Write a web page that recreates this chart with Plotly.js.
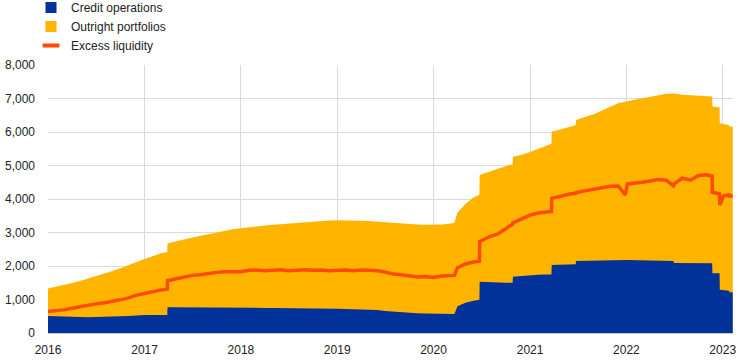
<!DOCTYPE html>
<html>
<head>
<meta charset="utf-8">
<script src="https://cdn.plot.ly/plotly-3.0.1.min.js"></script>
<style>html,body{margin:0;padding:0;background:#fff}#chart{width:744px;height:362px}</style>
</head>
<body>
<div id="chart"></div>
<script>
// Dates (weekly series sampled; duplicated-close dates mark step changes)
const dates = [
"2016-01-01","2016-02-01","2016-03-01","2016-04-01","2016-05-01","2016-06-01","2016-07-01","2016-08-01","2016-09-01","2016-10-01","2016-11-01","2016-12-01",
"2017-01-01","2017-02-01","2017-03-01","2017-03-28","2017-03-29","2017-05-01","2017-06-01","2017-07-01","2017-08-01","2017-09-01","2017-10-01","2017-11-01","2017-12-01",
"2018-01-01","2018-02-01","2018-03-01","2018-04-01","2018-05-01","2018-06-01","2018-07-01","2018-08-01","2018-09-01","2018-10-01","2018-11-01","2018-12-01",
"2019-01-01","2019-02-01","2019-03-01","2019-04-01","2019-05-01","2019-06-01","2019-07-01","2019-08-01","2019-09-01","2019-10-01","2019-11-01","2019-12-01",
"2020-01-01","2020-02-01","2020-03-01","2020-03-20","2020-04-01","2020-05-01","2020-06-01","2020-06-23","2020-06-24","2020-08-01","2020-09-01","2020-10-01","2020-10-27","2020-10-28","2020-12-01",
"2021-01-01","2021-02-01","2021-03-01","2021-03-23","2021-03-24","2021-05-01","2021-06-01","2021-06-23","2021-06-24","2021-08-01","2021-09-01","2021-10-01","2021-11-01","2021-12-01","2021-12-28",
"2022-01-05","2022-02-01","2022-03-01","2022-04-01","2022-05-01","2022-06-01","2022-06-28","2022-07-01","2022-08-01","2022-09-01","2022-10-01","2022-11-01","2022-11-22","2022-11-23","2022-12-20","2022-12-21",
"2023-01-05","2023-01-25","2023-01-26","2023-02-08"
];
// Credit operations (EUR billions)
const creditOperations = [
510,500,490,480,480,470,480,480,500,500,510,530,
540,540,540,540,770,770,765,765,765,760,760,760,760,
755,755,750,750,745,745,740,740,735,735,730,730,
725,720,715,710,700,690,660,640,630,610,590,585,
580,575,570,570,800,900,960,990,1530,1510,1505,1500,1500,1680,1700,
1730,1740,1750,1750,2030,2040,2050,2050,2150,2160,2170,2175,2180,2180,2180,
2180,2175,2170,2165,2160,2150,2150,2090,2085,2085,2080,2080,2080,1780,1780,1290,
1280,1260,1215,1214
];
// Outright portfolios (EUR billions)
const outrightPortfolios = [
820,880,940,1010,1070,1150,1210,1290,1350,1430,1520,1600,
1670,1750,1830,1880,1900,1970,2035,2085,2135,2190,2240,2290,2340,
2375,2405,2440,2460,2485,2505,2530,2550,2575,2595,2615,2625,
2640,2645,2645,2640,2640,2630,2640,2640,2640,2640,2650,2650,
2650,2665,2690,2720,2800,2950,3090,3140,3190,3320,3395,3480,3540,3580,3620,
3670,3760,3830,3900,3980,4040,4100,4150,4210,4290,4370,4465,4560,4680,4720,
4740,4785,4830,4885,4940,4990,5000,5060,5025,5015,5010,4990,4980,4980,4960,4970,
4950,4940,4955,4946
];
// Excess liquidity (EUR billions)
const excessLiquidity = [
640,660,690,740,790,830,870,900,940,990,1050,1130,
1180,1240,1280,1310,1560,1620,1680,1720,1740,1780,1810,1830,1840,
1830,1870,1880,1860,1880,1890,1860,1880,1890,1870,1880,1860,
1870,1880,1860,1880,1870,1860,1820,1760,1740,1710,1670,1690,
1660,1700,1710,1720,1950,2060,2120,2140,2730,2880,2960,3130,3250,3290,3400,
3520,3580,3610,3630,4020,4100,4150,4170,4190,4250,4300,4330,4380,4390,4120,
4450,4470,4500,4540,4580,4560,4390,4450,4620,4560,4700,4720,4680,4200,4150,3820,
4100,4120,4090,4090
];
const seriesNames = ["Credit operations","Outright portfolios","Excess liquidity"];
const colors = {credit:"#003299", outright:"#FFB400", excess:"#FF4B00"};

const total = creditOperations.map((v,i)=>v+outrightPortfolios[i]);

const traces = [
  {x:dates, y:total, type:"scatter", mode:"lines", fill:"tozeroy", fillcolor:colors.outright,
   line:{width:0, color:colors.outright}, showlegend:false, hoverinfo:"skip"},
  {x:dates, y:creditOperations, type:"scatter", mode:"lines", fill:"tozeroy", fillcolor:colors.credit,
   line:{width:0, color:colors.credit}, showlegend:false, hoverinfo:"skip"},
  {x:dates, y:excessLiquidity, type:"scatter", mode:"lines",
   line:{width:3.5, color:colors.excess}, showlegend:false, hoverinfo:"skip"},
  // legend entries
  {x:[null], y:[null], type:"scatter", mode:"markers", name:seriesNames[0],
   marker:{symbol:"square", size:11, color:colors.credit}},
  {x:[null], y:[null], type:"scatter", mode:"markers", name:seriesNames[1],
   marker:{symbol:"square", size:11, color:colors.outright}},
  {x:[null], y:[null], type:"scatter", mode:"markers", name:seriesNames[2],
   marker:{symbol:"line-ew-open", size:12, color:colors.excess, line:{width:4, color:colors.excess}}}
];

const font = {family:"Liberation Sans, Arial, sans-serif", size:12, color:"#222"};
const layout = {
  width:744, height:362,
  margin:{l:48, r:11, t:65, b:29, autoexpand:false},
  paper_bgcolor:"#fff", plot_bgcolor:"#fff",
  font:font,
  showlegend:true,
  legend:{xref:"paper", yref:"paper", x:-17/685, y:1+72/268, xanchor:"left", yanchor:"top",
          font:font, bgcolor:"rgba(0,0,0,0)", tracegroupgap:0, itemwidth:30},
  xaxis:{type:"date", range:["2016-01-01","2023-02-09"], tick0:"2016-01-01", dtick:"M12", tickformat:"%Y",
         showgrid:true, gridcolor:"#dadada", gridwidth:1, showline:true, linecolor:"#c8c8c8", linewidth:1,
         ticks:"", ticklabelstandoff:6, zeroline:false, fixedrange:true, tickfont:font},
  yaxis:{range:[0,8000], dtick:1000, tickformat:",d", showgrid:true, gridcolor:"#dadada", gridwidth:1,
         zeroline:false, showline:false, ticks:"", ticklabelstandoff:12, fixedrange:true, tickfont:font}
};
Plotly.newPlot("chart", traces, layout, {displayModeBar:false, staticPlot:true});
</script>
</body>
</html>
